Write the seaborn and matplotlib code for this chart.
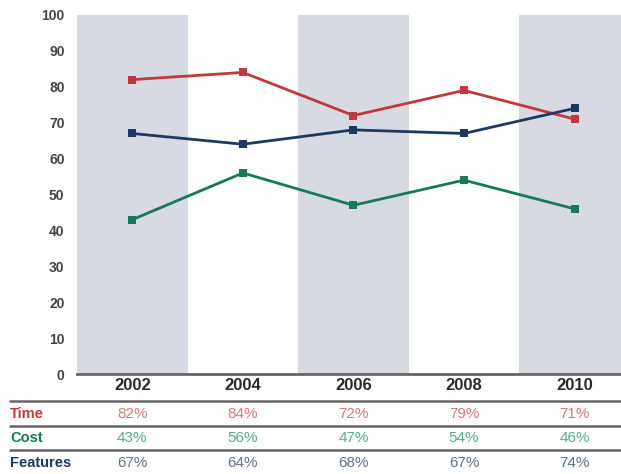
import pandas as pd
import matplotlib.pyplot as plt
import matplotlib.transforms as mtransforms
import seaborn as sns

# data
years = ['2002', '2004', '2006', '2008', '2010']
time_pct = [82, 84, 72, 79, 71]
cost_pct = [43, 56, 47, 54, 46]
features_pct = [67, 64, 68, 67, 74]
series_names = ['Time', 'Cost', 'Features']
y_ticks = [0, 10, 20, 30, 40, 50, 60, 70, 80, 90, 100]

line_colors = {'Time': '#c0393f', 'Cost': '#16795a', 'Features': '#1d3a5e'}
value_colors = {'Time': '#d9787c', 'Cost': '#5aaa8a', 'Features': '#5c7390'}

sns.set_style("white")
plt.rcParams['font.family'] = ['Liberation Sans Narrow', 'Liberation Sans', 'DejaVu Sans']

df = pd.DataFrame({
    'year': years * 3,
    'value': time_pct + cost_pct + features_pct,
    'series': ['Time'] * 5 + ['Cost'] * 5 + ['Features'] * 5,
})
df['pos'] = df['year'].map({y: i for i, y in enumerate(years)})

fig = plt.figure(figsize=(6.21, 4.74), dpi=100)
ax = fig.add_axes([77 / 621, 1 - 374 / 474, 1 - 77 / 621, 359 / 474])

# alternating grey bands
for i in range(0, len(years), 2):
    ax.axvspan(i - 0.5, i + 0.5, color='#d7dae2', lw=0, zorder=0)

sns.lineplot(data=df, x='pos', y='value', hue='series', palette=line_colors,
             marker='s', markersize=6, markeredgewidth=0, linewidth=2,
             legend=False, ax=ax, zorder=3)

ax.set_xlim(-0.5, 4.42)
ax.set_ylim(0, 100)
ax.set_yticks(y_ticks)
ax.set_yticklabels([str(t) for t in y_ticks], fontweight='bold', color='#444444', fontsize=10)
ax.tick_params(axis='y', length=0, pad=9)
ax.set_xticks(range(len(years)))
ax.set_xticklabels(years, fontweight='bold', color='#2a2a2a', fontsize=12)
ax.tick_params(axis='x', length=0, pad=3)
ax.set_xlabel('')
ax.set_ylabel('')
for side in ['left', 'right', 'top']:
    ax.spines[side].set_visible(False)
ax.spines['bottom'].set_color('#666666')
ax.spines['bottom'].set_linewidth(2)

# table underneath the chart
trans = mtransforms.blended_transform_factory(ax.transData, fig.transFigure)
row_y = [414, 438, 463]
rule_y = [401, 426, 450]
for ry in rule_y:
    fig.add_artist(plt.Line2D([10 / 621, 1], [1 - ry / 474] * 2, color='#666666', lw=1.8))

for name, vals, ry in zip(series_names, [time_pct, cost_pct, features_pct], row_y):
    fig.text(10 / 621, 1 - ry / 474, name, color=line_colors[name], fontweight='bold',
             fontsize=10.5, ha='left', va='center')
    for i, v in enumerate(vals):
        ax.text(i, 1 - ry / 474, f'{v}%', transform=trans, color=value_colors[name],
                fontsize=11, ha='center', va='center')

plt.savefig("out.png", dpi=100)
